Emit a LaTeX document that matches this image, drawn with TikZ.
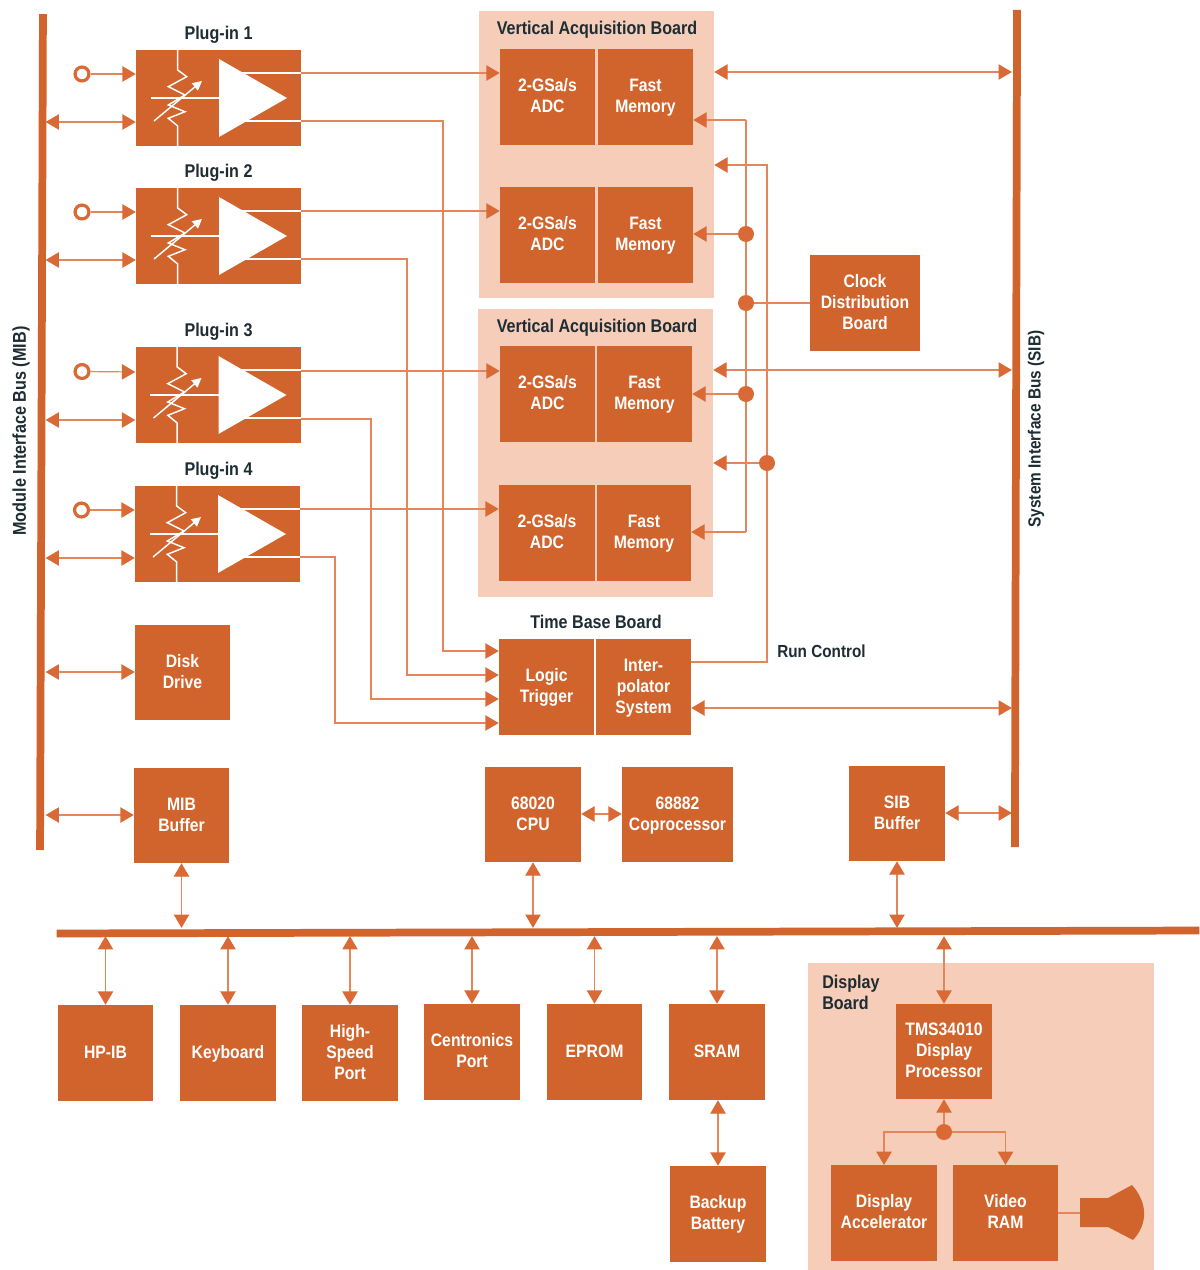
\documentclass[tikz,border=0pt]{standalone}
\usepackage{fontspec}
\setmainfont[FakeStretch=0.875]{Liberation Sans}
\usetikzlibrary{arrows.meta,calc}
\definecolor{blk}{HTML}{D0642C}
\definecolor{wirec}{HTML}{E5855A}
\definecolor{tipc}{HTML}{D96A35}
\definecolor{boardc}{HTML}{F5CDB8}
\definecolor{ink}{HTML}{1E2C33}
\tikzset{
  x=0.75pt,y=-0.75pt,
  blockbox/.style={draw=none,fill=blk,text=white,inner sep=0pt,align=center,font=\bfseries\fontsize{13.5}{15.75}\selectfont},
  boardbox/.style={draw=none,fill=boardc,inner sep=0pt},
  title/.style={text=ink,inner sep=0pt,align=center,yshift=-1.5pt,font=\bfseries\fontsize{13.8}{15.75}\selectfont},
  titleleft/.style={title,align=left,anchor=north west},
  busbar/.style={draw=none,fill=blk,inner sep=0pt},
  wire/.style={draw=wirec,line width=0.9pt},
  onearrow/.style={wire,-{Triangle[length=10pt,width=11.5pt,color=tipc]}},
  bothways/.style={wire,{Triangle[length=10pt,width=11.5pt,color=tipc]}-{Triangle[length=10pt,width=11.5pt,color=tipc]}},
  junction/.style={circle,fill=tipc,draw=none,minimum size=12pt,inner sep=0pt},
  ringin/.style={circle,draw=tipc,fill=white,line width=2.4pt,minimum size=10.4pt,inner sep=0pt},
  whiteline/.style={draw=white,line width=1.1pt},
}
\newcommand{\blockat}[6]{\node[blockbox,minimum width={(#4-#2)*0.75pt},minimum height={(#5-#3)*0.75pt}] (#1) at ({(#2+#4)/2},{(#3+#5)/2}) {\rule{0pt}{11pt}#6\vphantom{y}};}
\newcommand{\boardat}[5]{\node[boardbox,minimum width={(#4-#2)*0.75pt},minimum height={(#5-#3)*0.75pt}] (#1) at ({(#2+#4)/2},{(#3+#5)/2}) {};}
\newcommand{\pluginat}[3]{%
  \blockat{#1}{#2}{#3}{#2+165}{#3+96}{}
  \begin{scope}[shift={(#2,#3)}]
    \draw[whiteline] (41.7,0)--(41.7,20)--(50.7,26.7)--(32.3,36.7)--(49,45)--(32.3,55)--(49,61.7)--(32.3,68.3)--(41.7,76)--(41.7,96);
    \draw[whiteline] (14.7,48)--(84,48);
    \draw[whiteline,-{Triangle[length=7pt,width=7pt,color=white]}] (18,71)--(66,31);
    \fill[white] (83,9)--(83,87)--(151,48)--cycle;
    \draw[whiteline] (100,23)--(165,23);
    \draw[whiteline] (100,71)--(165,71);
  \end{scope}}
\begin{document}
\begin{tikzpicture}
\useasboundingbox[fill=white] (0,0) rectangle (1199,1270);
% boards
\boardat{vab1}{479}{11}{714}{298}
\boardat{vab2}{478}{309}{713}{597}
\boardat{dboard}{808}{963}{1154}{1270}
% buses
\node[busbar,minimum width=5.8pt,minimum height=627pt,rotate=-0.2] (mib) at (41.5,432) {};
\node[busbar,minimum width=5.8pt,minimum height=628pt,rotate=-0.15] (sib) at (1016,428.5) {};
\node[busbar,minimum width=857pt,minimum height=5.8pt,rotate=0.15] (ibus) at (628,932) {};
% side labels
\node[title,rotate=90,font=\bfseries\fontsize{13.9}{16}\selectfont] (miblabel) at (21,429) {Module Interface Bus (MIB)};
\node[title,rotate=90,font=\bfseries\fontsize{13.2}{16}\selectfont] (siblabel) at (1036,427) {System Interface Bus (SIB)};
% plug-ins
\pluginat{p1}{136}{50}
\pluginat{p2}{136}{188}
\pluginat{p3}{135.5}{347}
\pluginat{p4}{135}{486}
\node[title] (p1t) at (218.5,33) {Plug-in 1};
\node[title] (p2t) at (218.5,171) {Plug-in 2};
\node[title] (p3t) at (218.5,330) {Plug-in 3};
\node[title] (p4t) at (218.5,469) {Plug-in 4};
\node[ringin] (r1) at (82,74) {};
\node[ringin] (r2) at (82,212) {};
\node[ringin] (r3) at (82,371.5) {};
\node[ringin] (r4) at (81.5,510) {};
% acquisition boards
\node[title] (v1t) at (597,28) {Vertical Acquisition Board};
\node[title] (v2t) at (597,326) {Vertical Acquisition Board};
\blockat{a1}{500}{49}{595}{145}{2-GSa/s\\ADC}
\blockat{m1}{598}{49}{693}{145}{Fast\\Memory}
\blockat{a2}{500}{187}{595}{283}{2-GSa/s\\ADC}
\blockat{m2}{598}{187}{693}{283}{Fast\\Memory}
\blockat{a3}{500}{346}{595}{442}{2-GSa/s\\ADC}
\blockat{m3}{597}{346}{692}{442}{Fast\\Memory}
\blockat{a4}{499}{485}{595}{581}{2-GSa/s\\ADC}
\blockat{m4}{597}{485}{691}{581}{Fast\\Memory}
\blockat{clk}{810}{255}{920}{351}{Clock\\Distribution\\Board}
% time base
\node[title] (tbt) at (596,620) {Time Base Board};
\blockat{lt}{499}{639}{594}{735}{Logic\\Trigger}
\blockat{ips}{596}{639}{691}{735}{Inter-\\polator\\System}
\node[title,font=\bfseries\fontsize{13.1}{15.75}\selectfont] (rc) at (821.5,649) {Run Control};
% others
\blockat{disk}{135}{625}{230}{720}{Disk\\Drive}
\blockat{mbuf}{134}{768}{229}{863}{MIB\\Buffer}
\blockat{cpu}{485}{767}{581}{862}{68020\\CPU}
\blockat{fpu}{622}{767}{733}{862}{68882\\Coprocessor}
\blockat{sbuf}{849}{766}{945}{861}{SIB\\Buffer}
\blockat{hpib}{58}{1005}{153}{1101}{HP-IB}
\blockat{kbd}{180}{1005}{276}{1101}{Keyboard}
\blockat{hsp}{302}{1005}{398}{1101}{High-\\Speed\\Port}
\blockat{cen}{424}{1004}{520}{1100}{Centronics\\Port}
\blockat{eprom}{547}{1004}{642}{1100}{EPROM}
\blockat{sram}{669}{1004}{765}{1100}{SRAM}
\blockat{batt}{670}{1166}{766}{1262}{Backup\\Battery}
\node[titleleft] (dbt) at (822,973) {Display\\Board};
\blockat{tms}{896}{1004}{992}{1099}{TMS34010\\Display\\Processor}
\blockat{acc}{831}{1165}{937}{1261}{Display\\Accelerator}
\blockat{vram}{953}{1165}{1058}{1261}{Video\\RAM}
\fill[blk] (1080,1198)--(1108,1198)--(1132,1185) .. controls (1148,1203) and (1148,1224) .. (1133,1240) --(1108,1227)--(1080,1227)--cycle;
\coordinate (crt) at (1080,1213);
% junctions
\node[junction] (j1) at (746,234) {};
\node[junction] (j2) at (746,303) {};
\node[junction] (j3) at (746,394) {};
\node[junction] (j4) at (767,463) {};
\node[junction] (j5) at (944,1132) {};
% inputs and MIB links
\foreach \r/\p/\yy/\yb in {r1/p1/74/122,r2/p2/212/260,r3/p3/372/420,r4/p4/510/558}{
  \draw[onearrow] (\r) -- (\p.west |- 0,\yy);
  \draw[bothways] (mib.east |- 0,\yb) -- (\p.west |- 0,\yb);
}
\draw[bothways] (mib.east |- 0,672) -- (disk.west |- 0,672);
\draw[bothways] (mib.east |- 0,815) -- (mbuf.west |- 0,815);
% plug-in to ADC
\draw[onearrow] (p1.east |- 0,73) -- (a1.west |- 0,73);
\draw[onearrow] (p2.east |- 0,211) -- (a2.west |- 0,211);
\draw[onearrow] (p3.east |- 0,371) -- (a3.west |- 0,371);
\draw[onearrow] (p4.east |- 0,509) -- (a4.west |- 0,509);
% plug-in to trigger
\draw[onearrow] (p1.east |- 0,121) -| (443,651) -- (lt.west |- 0,651);
\draw[onearrow] (p2.east |- 0,259) -| (407,675) -- (lt.west |- 0,675);
\draw[onearrow] (p3.east |- 0,419) -| (371,699) -- (lt.west |- 0,699);
\draw[onearrow] (p4.east |- 0,557) -| (335,723) -- (lt.west |- 0,723);
% SIB links
\draw[bothways] (vab1.east |- 0,72) -- (sib.west |- 0,72);
\draw[bothways] (vab2.east |- 0,370) -- (sib.west |- 0,370);
\draw[bothways] (ips.east |- 0,708) -- (sib.west |- 0,708);
\draw[bothways] (sbuf.east |- 0,813) -- (sib.west |- 0,813);
% clock
\draw[wire] (clk.west |- j2) -- (j2);
\draw[onearrow] (j1 |- 0,120) -- (m1.east |- 0,120);
\draw[wire] (j1 |- 0,120) -- (j1) -- (j2) -- (j3) -- (j3 |- 0,532);
\draw[onearrow] (j3 |- 0,532) -- (m4.east |- 0,532);
\draw[onearrow] (j1) -- (m2.east |- j1);
\draw[onearrow] (j3) -- (m3.east |- j3);
% run control
\draw[onearrow] (j4) -- (vab2.east |- j4);
\draw[onearrow] (ips.east |- 0,662) -| (j4) |- (vab1.east |- 0,165);
% CPU
\draw[bothways] (cpu.east |- 0,814) -- (fpu.west |- 0,814);
\draw[bothways] (mbuf.south) -- (mbuf.south |- ibus.north);
\draw[bothways] (cpu.south) -- (cpu.south |- ibus.north);
\draw[bothways] (sbuf.south) -- (sbuf.south |- ibus.north);
% bottom row
\foreach \b in {hpib,kbd,hsp,cen,eprom,sram}{
  \draw[bothways] (\b.north |- ibus.south) -- (\b.north);
}
\draw[bothways] (batt.north |- sram.south) -- (batt.north);
\draw[bothways] (ibus.south -| tms.north) -- (tms.north);
% display board
\draw[onearrow] (j5) -- (j5 |- tms.south);
\draw[onearrow] (j5) -| (acc.north |- 0,1165);
\draw[onearrow] (j5) -| (vram.north |- 0,1165);
\draw[wire] (vram.east |- crt) -- (crt);
\end{tikzpicture}
\end{document}
